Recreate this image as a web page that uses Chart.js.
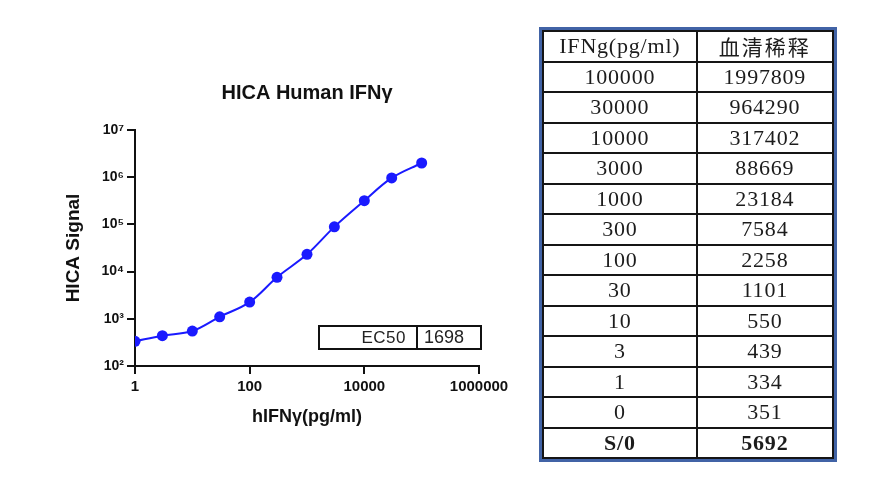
<!DOCTYPE html>
<html>
<head>
<meta charset="utf-8">
<script src="https://cdn.jsdelivr.net/npm/chart.js@4.4.1/dist/chart.umd.min.js"></script>
<style>
  html, body { margin: 0; padding: 0; background: #fff; }
  body { width: 876px; height: 477px; position: relative; overflow: hidden; }
  #chartBox { position: absolute; left: 0; top: 0; width: 540px; height: 477px; }
  #ec50 {
    position: absolute; left: 318px; top: 325px; width: 164px; height: 25px;
    box-sizing: border-box; border: 2px solid #111; display: flex;
    font-family: "Liberation Sans", Arial, sans-serif; color: #222;
  }
  #ec50 .k { width: 98px; border-right: 2px solid #111; text-align: right; padding-right: 10px; box-sizing: border-box; font-size: 17px; line-height: 21px; letter-spacing: 0.5px; }
  #ec50 .v { flex: 1; padding-left: 6px; font-size: 18px; line-height: 21px; }
  #tabla {
    position: absolute; left: 539px; top: 27px; width: 298px; height: 435px;
    box-sizing: border-box; border: 3px solid #4163a6;
  }
  #tabla table {
    width: 100%; height: 100%; border-collapse: collapse; table-layout: fixed;
    font-family: "Liberation Serif", "Times New Roman", serif; font-size: 22px; color: #1c1c1c;
  }
  #tabla td { border: 2px solid #151515; text-align: center; padding: 0; line-height: 26px; letter-spacing: 0.8px; }
  #tabla td.zh { font-family: "Noto Sans CJK SC", sans-serif; font-size: 21px; letter-spacing: 2px; }
  #tabla tr.tot td { font-weight: bold; }
</style>
</head>
<body>
<div id="chartBox"><canvas id="hicaChart"></canvas></div>
<div id="ec50"><div class="k">EC50</div><div class="v">1698</div></div>
<div id="tabla"><table id="tablaDatos"></table></div>
<script>
/* ============================================================
   DATOS
============================================================ */
const DOSIS   = [100000, 30000, 10000, 3000, 1000, 300, 100, 30, 10, 3, 1, 0];
const SENAL   = [1997809, 964290, 317402, 88669, 23184, 7584, 2258, 1101, 550, 439, 334, 351];
const S0      = 5692;
const EC50    = 1698;
const TICKS_X = [1, 100, 10000, 1000000];
const TICKS_Y = [100, 1000, 10000, 100000, 1000000, 10000000];
const SUP     = { 2: '²', 3: '³', 4: '⁴', 5: '⁵', 6: '⁶', 7: '⁷' };

/* ============================================================
   TABLA
============================================================ */
function llenarTabla() {
    const t = document.getElementById('tablaDatos');
    let html = '<colgroup><col style="width:53%"><col style="width:47%"></colgroup>';
    html += '<tr><td>IFNg(pg/ml)</td><td class="zh">血清稀释</td></tr>';
    DOSIS.forEach((d, i) => { html += `<tr><td>${d}</td><td>${SENAL[i]}</td></tr>`; });
    html += `<tr class="tot"><td>S/0</td><td>${S0}</td></tr>`;
    t.innerHTML = html;
    document.querySelector('#ec50 .v').textContent = EC50;
}

/* ============================================================
   GRÁFICO
============================================================ */
function dibujarGrafico() {
    // escala log: el punto de dosis 0 no se puede mostrar
    const puntos = DOSIS.map((d, i) => ({ x: d, y: SENAL[i] }))
        .filter(p => p.x > 0)
        .sort((a, b) => a.x - b.x);

    const ejeComun = {
        type: 'logarithmic',
        grid: { display: true, drawOnChartArea: false, drawTicks: true, tickLength: 8, color: '#111', lineWidth: 2 },
        border: { display: true, color: '#111', width: 2 }
    };

    new Chart(document.getElementById('hicaChart'), {
        type: 'line',
        data: {
            datasets: [{
                data: puntos,
                borderColor: '#1a1aff', backgroundColor: '#1a1aff',
                pointBackgroundColor: '#1a1aff', pointBorderWidth: 0,
                pointRadius: 5.5, borderWidth: 2, tension: 0.35, fill: false
            }]
        },
        options: {
            responsive: true, maintainAspectRatio: false, animation: false,
            layout: { padding: { left: 0, right: 61, top: 0, bottom: 41 } },
            plugins: {
                legend: { display: false },
                tooltip: { enabled: false },
                title: {
                    display: true, text: 'HICA Human IFNγ', fullSize: false, color: '#111',
                    font: { family: 'Liberation Sans, Arial', size: 20, weight: 'bold' },
                    padding: { top: 81, bottom: 25 }
                }
            },
            scales: {
                x: {
                    ...ejeComun, min: 1, max: 1000000,
                    afterBuildTicks: s => { s.ticks = TICKS_X.map(v => ({ value: v })); },
                    afterFit: s => { s.height = 70; s.paddingLeft = 0; s.paddingRight = 0; },
                    ticks: { autoSkip: false, maxRotation: 0, padding: 4, color: '#111',
                             font: { family: 'Liberation Sans, Arial', size: 15, weight: 'bold' },
                             callback: v => String(v) },
                    title: { display: true, text: 'hIFNγ(pg/ml)', color: '#111',
                             font: { family: 'Liberation Sans, Arial', size: 18, weight: 'bold' },
                             padding: { top: 0, bottom: 8 } }
                },
                y: {
                    ...ejeComun, min: 100, max: 10000000,
                    afterBuildTicks: s => { s.ticks = TICKS_Y.map(v => ({ value: v })); },
                    afterFit: s => { s.width = 135; s.paddingTop = 0; s.paddingBottom = 0; },
                    ticks: { autoSkip: false, padding: 3, color: '#111',
                             font: { family: 'Liberation Sans, Arial', size: 14, weight: 'bold' },
                             callback: v => '10' + SUP[Math.round(Math.log10(v))] },
                    title: { display: true, text: 'HICA Signal', color: '#111',
                             font: { family: 'Liberation Sans, Arial', size: 19, weight: 'bold' },
                             padding: { top: 62, bottom: 0 } }
                }
            }
        }
    });
}

llenarTabla();
dibujarGrafico();
</script>
</body>
</html>
